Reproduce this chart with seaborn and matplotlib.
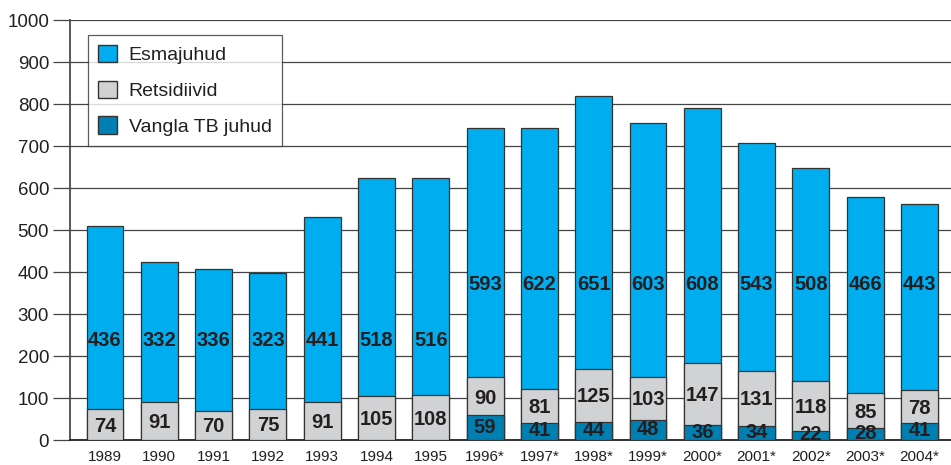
import matplotlib
matplotlib.use("Agg")
import matplotlib.pyplot as plt
import seaborn as sns
import pandas as pd
import numpy as np
from matplotlib.patches import Patch

years = ["1989", "1990", "1991", "1992", "1993", "1994", "1995", "1996*", "1997*",
         "1998*", "1999*", "2000*", "2001*", "2002*", "2003*", "2004*"]
vangla = [0, 0, 0, 0, 0, 0, 0, 59, 41, 44, 48, 36, 34, 22, 28, 41]
retsidiivid = [74, 91, 70, 75, 91, 105, 108, 90, 81, 125, 103, 147, 131, 118, 85, 78]
esmajuhud = [436, 332, 336, 323, 441, 518, 516, 593, 622, 651, 603, 608, 543, 508, 466, 443]

sns.set_theme(style="white")
plt.rcParams['font.family'] = ['Liberation Sans', 'DejaVu Sans']

C_ESMA = "#00AEEF"
C_RETS = "#D1D2D4"
C_VANG = "#0080B2"
EDGE = "#333333"
TXT = "#231F20"

fig = plt.figure(figsize=(9.51, 4.65), dpi=100)
ax = fig.add_axes([70/951, 1-440/465, 1-70/951, 420/465])

df = pd.DataFrame({"year": years, "vangla": vangla, "rets": retsidiivid, "esma": esmajuhud})
df["rets_top"] = df["vangla"] + df["rets"]
df["total"] = df["rets_top"] + df["esma"]

W = 0.68
sns.barplot(data=df, x="year", y="total", color=C_ESMA, width=W, saturation=1,
            edgecolor=EDGE, linewidth=0.9, ax=ax, zorder=3)
sns.barplot(data=df, x="year", y="rets_top", color=C_RETS, width=W, saturation=1,
            edgecolor=EDGE, linewidth=0.9, ax=ax, zorder=4)
sns.barplot(data=df, x="year", y="vangla", color=C_VANG, width=W, saturation=1,
            edgecolor=EDGE, linewidth=0.9, ax=ax, zorder=5)
for p in ax.patches[-len(df):]:
    if p.get_height() == 0:
        p.set_visible(False)

lab_kw = dict(ha="center", va="center", fontsize=14.5, fontweight="bold", color=TXT, zorder=6)
for i, r in df.iterrows():
    ymid_esma = 236 if "*" not in r["year"] else 370
    ax.text(i, ymid_esma, str(r["esma"]), **lab_kw)
    ax.text(i, r["vangla"] + r["rets"] / 2 - 4, str(r["rets"]), **lab_kw)
    if r["vangla"] > 0:
        ax.text(i, r["vangla"] / 2 + 1, str(r["vangla"]), **lab_kw)

ax.set_xlim(-0.645, 15.58)
ax.set_ylim(0, 1000)
ax.set_yticks(range(0, 1001, 100))
ax.yaxis.grid(True, color="#444444", linewidth=0.9, zorder=0)
ax.set_axisbelow(True)
ax.set_xlabel("")
ax.set_ylabel("")
for s in ["top", "right"]:
    ax.spines[s].set_visible(False)
ax.spines["left"].set_color("#444444")
ax.spines["bottom"].set_color("#222222")
ax.spines["bottom"].set_linewidth(1.3)
ax.tick_params(axis="y", left=True, length=12, width=0.9, color="#444444",
               labelsize=13.5, labelcolor=TXT, pad=3)
ax.tick_params(axis="x", bottom=False, labelsize=11, labelcolor=TXT, pad=1)

handles = [Patch(facecolor=C_ESMA, edgecolor=EDGE, label="Esmajuhud"),
           Patch(facecolor=C_RETS, edgecolor=EDGE, label="Retsidiivid"),
           Patch(facecolor=C_VANG, edgecolor=EDGE, label="Vangla TB juhud")]
leg = fig.legend(handles=handles, loc="upper left", bbox_to_anchor=(88/951, 1-35/465),
                 frameon=True, fancybox=False, fontsize=14, handlelength=1.0,
                 handleheight=1.0, labelspacing=0.85, borderpad=0.5, handletextpad=0.6,
                 borderaxespad=0, labelcolor=TXT)
leg.get_frame().set_edgecolor("#333333")
leg.get_frame().set_linewidth(0.9)
leg.set_zorder(10)

fig.savefig("out.png", dpi=100)
